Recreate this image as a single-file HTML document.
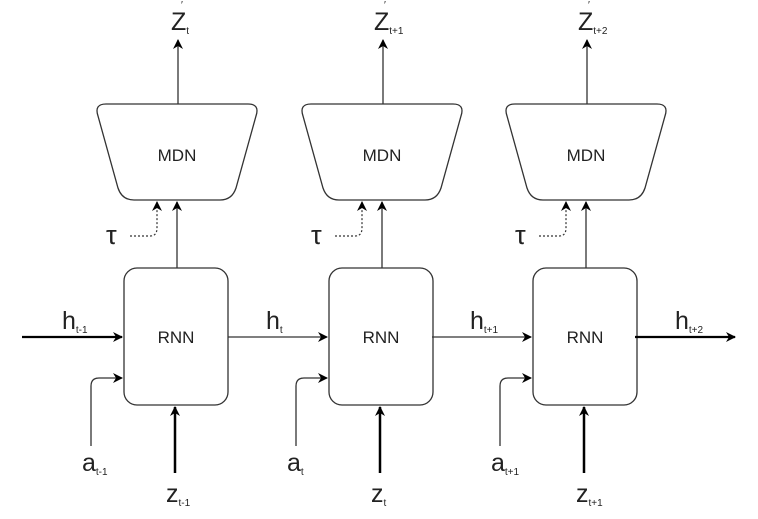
<!DOCTYPE html>
<html><head><style>body{margin:0;background:#fff}svg{display:block}text{font-family:"Liberation Sans",sans-serif;fill:#222}</style></head>
<body>
<svg width="758" height="519" viewBox="0 0 758 519">
<defs>
<marker id="ar" markerWidth="10" markerHeight="10" refX="9" refY="5" orient="auto" markerUnits="userSpaceOnUse"><path d="M0,0 L10,5 L0,10 L3,5 z" fill="#000"/></marker>
<g id="col">
  <path d="M106,104 L248,104 Q260,104 256,116 L236,188 Q232,200 220,200 L134,200 Q122,200 118,188 L98,116 Q94,104 106,104 z" fill="#fff" stroke="#333" stroke-width="1.3"/>
  <text x="177" y="161" font-size="17" text-anchor="middle">MDN</text>
  <line x1="178" y1="104" x2="178" y2="40" stroke="#333" stroke-width="1.3" marker-end="url(#ar)"/>
  <rect x="124" y="268" width="104" height="137" rx="13" fill="#fff" stroke="#333" stroke-width="1.3"/>
  <text x="176" y="343" font-size="17" text-anchor="middle">RNN</text>
  <line x1="177" y1="268" x2="177" y2="202" stroke="#333" stroke-width="1.3" marker-end="url(#ar)"/>
  <path d="M130,236 L150,236 Q157,236 157,228 L157,202" fill="none" stroke="#333" stroke-width="1.2" stroke-dasharray="2,2" marker-end="url(#ar)"/>
  <text x="106" y="244" font-size="27">τ</text>
  <path d="M91,446 L91,386 Q91,378 99,378 L122,378" fill="none" stroke="#333" stroke-width="1.3" marker-end="url(#ar)"/>
  <line x1="175" y1="473" x2="175" y2="407" stroke="#000" stroke-width="2.5" marker-end="url(#ar)"/>
</g>
</defs>
<use href="#col"/>
<use href="#col" transform="translate(205,0)"/>
<use href="#col" transform="translate(409,0)"/>
<line x1="22" y1="337" x2="122" y2="337" stroke="#000" stroke-width="2.3" marker-end="url(#ar)"/>
<line x1="228" y1="337" x2="327" y2="337" stroke="#333" stroke-width="1.3" marker-end="url(#ar)"/>
<line x1="432" y1="337" x2="531" y2="337" stroke="#333" stroke-width="1.3" marker-end="url(#ar)"/>
<line x1="635" y1="337" x2="735" y2="337" stroke="#000" stroke-width="2.3" marker-end="url(#ar)"/>
<g font-size="25">
<text x="171" y="30">Z<tspan font-size="10" dy="4">t</tspan></text>
<text x="374" y="30">Z<tspan font-size="10" dy="4">t+1</tspan></text>
<text x="578" y="30">Z<tspan font-size="10" dy="4">t+2</tspan></text>
</g>
<g font-size="10"><text x="181" y="8">′</text><text x="384" y="8">′</text><text x="588" y="8">′</text></g>
<g font-size="25">
<text x="62" y="329">h<tspan font-size="10" dy="4">t-1</tspan></text>
<text x="266" y="329">h<tspan font-size="10" dy="4">t</tspan></text>
<text x="470" y="329">h<tspan font-size="10" dy="4">t+1</tspan></text>
<text x="675" y="329">h<tspan font-size="10" dy="4">t+2</tspan></text>
</g>
<g font-size="25">
<text x="82" y="471">a<tspan font-size="10" dy="4">t-1</tspan></text>
<text x="287" y="471">a<tspan font-size="10" dy="4">t</tspan></text>
<text x="491" y="471">a<tspan font-size="10" dy="4">t+1</tspan></text>
</g>
<g font-size="25">
<text x="166" y="502">z<tspan font-size="10" dy="4">t-1</tspan></text>
<text x="371" y="502">z<tspan font-size="10" dy="4">t</tspan></text>
<text x="576" y="502">z<tspan font-size="10" dy="4">t+1</tspan></text>
</g>
</svg>
</body></html>
